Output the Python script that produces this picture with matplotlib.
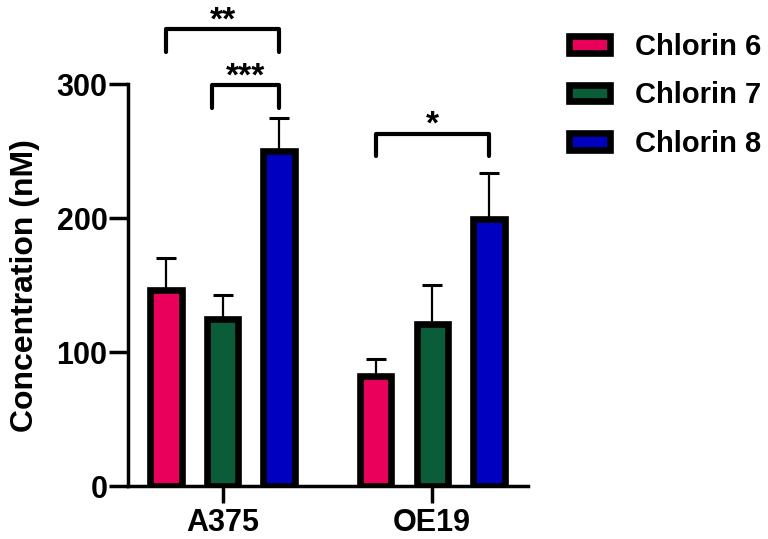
import numpy as np
import matplotlib
matplotlib.use("Agg")
import matplotlib.pyplot as plt

plt.rcParams['font.family'] = ['Liberation Sans', 'DejaVu Sans']
plt.rcParams['font.weight'] = 'bold'

# datos
groups = ["A375", "OE19"]
series = ["Chlorin 6", "Chlorin 7", "Chlorin 8"]
chlorin6 = [146, 82]
chlorin7 = [125, 121]
chlorin8 = [250, 199]
err6 = [24, 13]
err7 = [18, 29]
err8 = [25, 35]
colors = ["#E8005A", "#0B5C38", "#0000C0"]

# comparaciones: (grupo, serie inicio, serie fin, etiqueta, altura)
brackets = [(0, 0, 2, "**", 341), (0, 1, 2, "***", 299), (1, 0, 2, "*", 263)]

fig = plt.figure(figsize=(7.68, 5.39), dpi=100)
ax = fig.add_axes([0.167, 0.098, 0.52, 0.746])

x = np.arange(len(groups))
offset = 0.27
width = 0.15
vals = [chlorin6, chlorin7, chlorin8]
errs = [err6, err7, err8]
for i in range(3):
    xi = x + (i - 1) * offset
    ax.bar(xi, vals[i], width, color=colors[i], edgecolor="black",
           linewidth=4.8, label=series[i], zorder=3)
    ax.errorbar(xi, vals[i], yerr=[np.zeros(len(groups)), errs[i]], fmt="none",
                ecolor="black", elinewidth=1.6, capsize=7.5, capthick=2.2, zorder=2)

# corchetes de significancia
for g, s1, s2, lab, h in brackets:
    x1 = g + (s1 - 1) * offset
    x2 = g + (s2 - 1) * offset
    if lab == "***":
        x1 = x1 - 0.05
    ax.plot([x1, x1, x2, x2], [h - 17, h, h, h - 17], color="black", lw=3,
            clip_on=False, solid_capstyle="round", zorder=4)
    ax.text((x1 + x2) / 2, h, lab, ha="center", va="baseline",
            fontsize=24, fontweight="bold")

ax.set_xlim(-0.45, 0.455 + 1)
ax.set_ylim(0, 300)
ax.set_yticks([0, 100, 200, 300])
ax.set_xticks(x)
ax.set_xticklabels(groups)
ax.spines["top"].set_visible(False)
ax.spines["right"].set_visible(False)
ax.spines["left"].set_linewidth(2.5)
ax.spines["bottom"].set_linewidth(2.5)
ax.tick_params(axis="y", width=2.5, length=14, pad=1, labelsize=22)
ax.tick_params(axis="x", width=2.5, length=12, pad=4, labelsize=22)
for t in ax.get_xticklabels() + ax.get_yticklabels():
    t.set_fontweight("bold")
ax.set_ylabel("Concentration (nM)", fontsize=23, fontweight="bold")
ax.yaxis.set_label_coords(-0.22, 0.5)

fig.legend(loc="upper left", bbox_to_anchor=(0.7066, 0.988), frameon=False,
           prop={"size": 21, "weight": "bold"}, handlelength=1.42,
           handleheight=0.5, labelspacing=0.71, handletextpad=0.85)

fig.savefig("out.png", dpi=100)
